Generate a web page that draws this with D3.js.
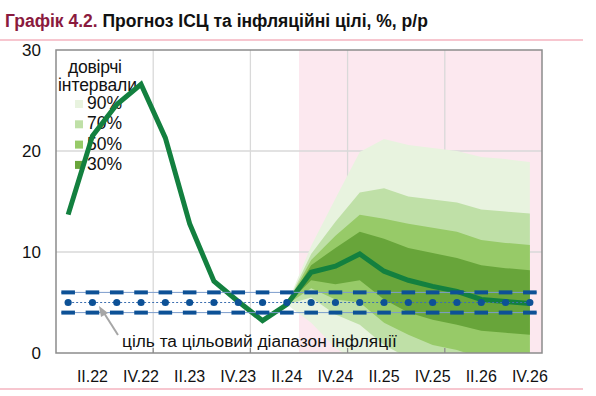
<!DOCTYPE html>
<html>
<head>
<meta charset="utf-8">
<script src="https://cdn.jsdelivr.net/npm/d3@7"></script>
<style>
  body { margin: 0; background: #fff; }
  svg text { font-family: "Liberation Sans", Arial, sans-serif; }
</style>
</head>
<body>
<svg id="Canvas" width="596" height="396"></svg>
<script>
// quarters on the category axis
var quarters = ["I.22", "II.22", "III.22", "IV.22", "I.23", "II.23", "III.23", "IV.23",
  "I.24", "II.24", "III.24", "IV.24", "I.25", "II.25", "III.25", "IV.25",
  "I.26", "II.26", "III.26", "IV.26"];
var tickLabels = ["II.22", "IV.22", "II.23", "IV.23", "II.24", "IV.24", "II.25", "IV.25", "II.26", "IV.26"];
var yTicks = [0, 10, 20, 30];
var yearEdges = ["I.23", "I.24", "I.25", "I.26"];

// CPI, % y/y (fact + forecast)
var cpi = [13.7, 21.5, 24.6, 26.6, 21.3, 12.8, 7.1, 5.1, 3.2, 4.8,
  8.0, 8.6, 9.8, 8.1, 7.2, 6.6, 6.1, 5.3, 5.1, 4.9];

// fan chart, from II.24 to IV.26
var fanQuarters = quarters.slice(9);
var hi90 = [4.8, 10.6, 15.3, 19.9, 21.2, 20.6, 20.3, 20.0, 19.4, 19.2, 18.9];
var hi70 = [4.8, 9.8, 13.0, 15.9, 16.3, 15.5, 15.2, 14.9, 14.2, 14.0, 13.8];
var hi50 = [4.8, 9.2, 11.6, 13.7, 13.3, 12.8, 12.4, 12.0, 11.2, 10.9, 10.7];
var hi30 = [4.8, 8.7, 10.4, 12.0, 11.3, 10.4, 9.9, 9.4, 8.7, 8.4, 8.2];
var lo30 = [4.8, 7.2, 6.8, 7.2, 5.3, 4.0, 3.3, 2.8, 2.2, 2.0, 1.8];
var lo50 = [4.8, 6.4, 5.3, 5.0, 3.0, 1.8, 0.8, 0.3, -0.5, -0.7, -1.0];
var lo70 = [4.8, 5.5, 3.8, 2.8, 0.8, -0.5, -1.2, -1.8, -2.5, -2.8, -3.0];
var lo90 = [4.8, 3.0, 0.5, -1.0, -3.0, -4.5, -5.0, -5.5, -6.0, -6.5, -7.0];

var bandNames = ["90%", "70%", "50%", "30%"];
var bandColors = ["#e8f3df", "#bfe0a7", "#97ca68", "#68a53a"];

// inflation target and range
var target = 5, targetLow = 4, targetHigh = 6;
var forecastStart = "III.24";

var svg = d3.select("#Canvas");
var plotLeft = 56, plotRight = 542, plotTop = 50, plotBottom = 353;

var x = d3.scaleBand().domain(quarters).range([plotLeft, plotRight]).padding(0);
var y = d3.scaleLinear().domain([0, 30]).range([plotBottom, plotTop]);
var cx = function (q) { return x(q) + x.bandwidth() / 2; };

// title
var title = svg.append("text").attr("x", 5).attr("y", 27)
  .style("font-size", "17.5px").style("font-weight", "bold");
title.append("tspan").attr("fill", "#8a1a3e").text("Графік 4.2. ");
title.append("tspan").attr("fill", "#111").text("Прогноз ІСЦ та інфляційні цілі, %, р/р");

svg.append("line").attr("x1", 0).attr("x2", 583).attr("y1", 40).attr("y2", 40)
  .style("stroke", "#f08ea0").style("stroke-width", 1.2);
svg.append("line").attr("x1", 0).attr("x2", 583).attr("y1", 389).attr("y2", 389)
  .style("stroke", "#f08ea0").style("stroke-width", 1.2);

svg.append("defs").append("clipPath").attr("id", "plotClip")
  .append("rect").attr("x", plotLeft).attr("y", plotTop)
  .attr("width", plotRight - plotLeft).attr("height", plotBottom - plotTop);

// forecast background
svg.append("rect")
  .attr("x", x(forecastStart)).attr("y", plotTop)
  .attr("width", plotRight - x(forecastStart)).attr("height", plotBottom - plotTop)
  .style("fill", "#fce8ef");

// grid
yTicks.slice(1, 3).forEach(function (v) {
  svg.append("line").attr("x1", plotLeft).attr("x2", plotRight).attr("y1", y(v)).attr("y2", y(v))
    .style("stroke", "#d9d9d9").style("stroke-width", 1.3);
});
yearEdges.forEach(function (q) {
  svg.append("line").attr("x1", x(q)).attr("x2", x(q)).attr("y1", plotTop).attr("y2", plotBottom)
    .style("stroke", "#d9d9d9").style("stroke-width", 1.3);
});

// fan bands
var plot = svg.append("g").attr("clip-path", "url(#plotClip)");
var bands = [[lo90, hi90], [lo70, hi70], [lo50, hi50], [lo30, hi30]];
bands.forEach(function (b, k) {
  var area = d3.area()
    .x(function (d, i) { return cx(fanQuarters[i]); })
    .y0(function (d, i) { return y(b[0][i]); })
    .y1(function (d, i) { return y(b[1][i]); });
  plot.append("path").datum(fanQuarters).attr("d", area).style("fill", bandColors[k]);
});

// legend
svg.append("text").attr("x", 68).attr("y", 73).attr("textLength", 54)
  .style("font-size", "17.5px").attr("fill", "#111").text("довірчі");
svg.append("text").attr("x", 58).attr("y", 91).attr("textLength", 79)
  .style("font-size", "17.5px").attr("fill", "#111").text("інтервали");
bandNames.forEach(function (n, i) {
  var yy = 109 + i * 20.3;
  svg.append("rect").attr("x", 75).attr("y", yy - 9).attr("width", 8).attr("height", 8)
    .style("fill", bandColors[i]);
  svg.append("text").attr("x", 87).attr("y", yy).style("font-size", "17.5px")
    .attr("fill", "#111").text(n);
});

// CPI line
var line = d3.line().x(function (d, i) { return cx(quarters[i]); }).y(function (d) { return y(d); });
svg.append("path").datum(cpi).attr("d", line)
  .style("fill", "none").style("stroke", "#13803f").style("stroke-width", 5)
  .style("stroke-linejoin", "miter");

// target range
var x0 = cx(quarters[0]) - 7, x1 = cx(quarters[quarters.length - 1]) + 7;
[targetLow, targetHigh].forEach(function (v) {
  svg.append("line").attr("x1", x0).attr("x2", x1).attr("y1", y(v)).attr("y2", y(v))
    .style("stroke", "#7b9ccc").style("stroke-width", 1);
  svg.selectAll(null).data(quarters).enter().append("line")
    .attr("x1", function (q) { return cx(q) - 6.8; })
    .attr("x2", function (q) { return cx(q) + 6.8; })
    .attr("y1", y(v)).attr("y2", y(v))
    .style("stroke", "#0d5196").style("stroke-width", 4);
});
svg.append("line").attr("x1", cx(quarters[0])).attr("x2", cx(quarters[quarters.length - 1]))
  .attr("y1", y(target)).attr("y2", y(target))
  .style("stroke", "#3d6fb0").style("stroke-width", 1).style("stroke-dasharray", "2,2");
svg.selectAll(null).data(quarters).enter().append("circle")
  .attr("cx", function (q) { return cx(q); }).attr("cy", y(target)).attr("r", 3.6)
  .style("fill", "#0d5196");

// annotation
svg.append("line").attr("x1", 118).attr("y1", 335).attr("x2", 104).attr("y2", 313)
  .style("stroke", "#a6a6a6").style("stroke-width", 2);
svg.append("path").attr("d", "M99,306 L108,313 L101,317 Z").style("fill", "#a6a6a6");
svg.append("text").attr("x", 122).attr("y", 347).style("font-size", "17.3px")
  .attr("fill", "#111").text("ціль та цільовий діапазон інфляції");

// frame and axes
svg.append("rect").attr("x", plotLeft).attr("y", plotTop)
  .attr("width", plotRight - plotLeft).attr("height", plotBottom - plotTop)
  .style("fill", "none").style("stroke", "#8c8c8c").style("stroke-width", 1.5);
yearEdges.forEach(function (q) {
  svg.append("line").attr("x1", x(q)).attr("x2", x(q)).attr("y1", plotBottom - 5).attr("y2", plotBottom)
    .style("stroke", "#8c8c8c").style("stroke-width", 1.3);
});
yTicks.forEach(function (v) {
  svg.append("text").attr("x", 41).attr("y", y(v) + 6).attr("text-anchor", "end")
    .style("font-size", "17px").attr("fill", "#111").text(v);
});
tickLabels.forEach(function (t) {
  svg.append("text").attr("x", cx(t)).attr("y", 382).attr("text-anchor", "middle")
    .style("font-size", "16px").attr("fill", "#111").text(t);
});
</script>
</body>
</html>
